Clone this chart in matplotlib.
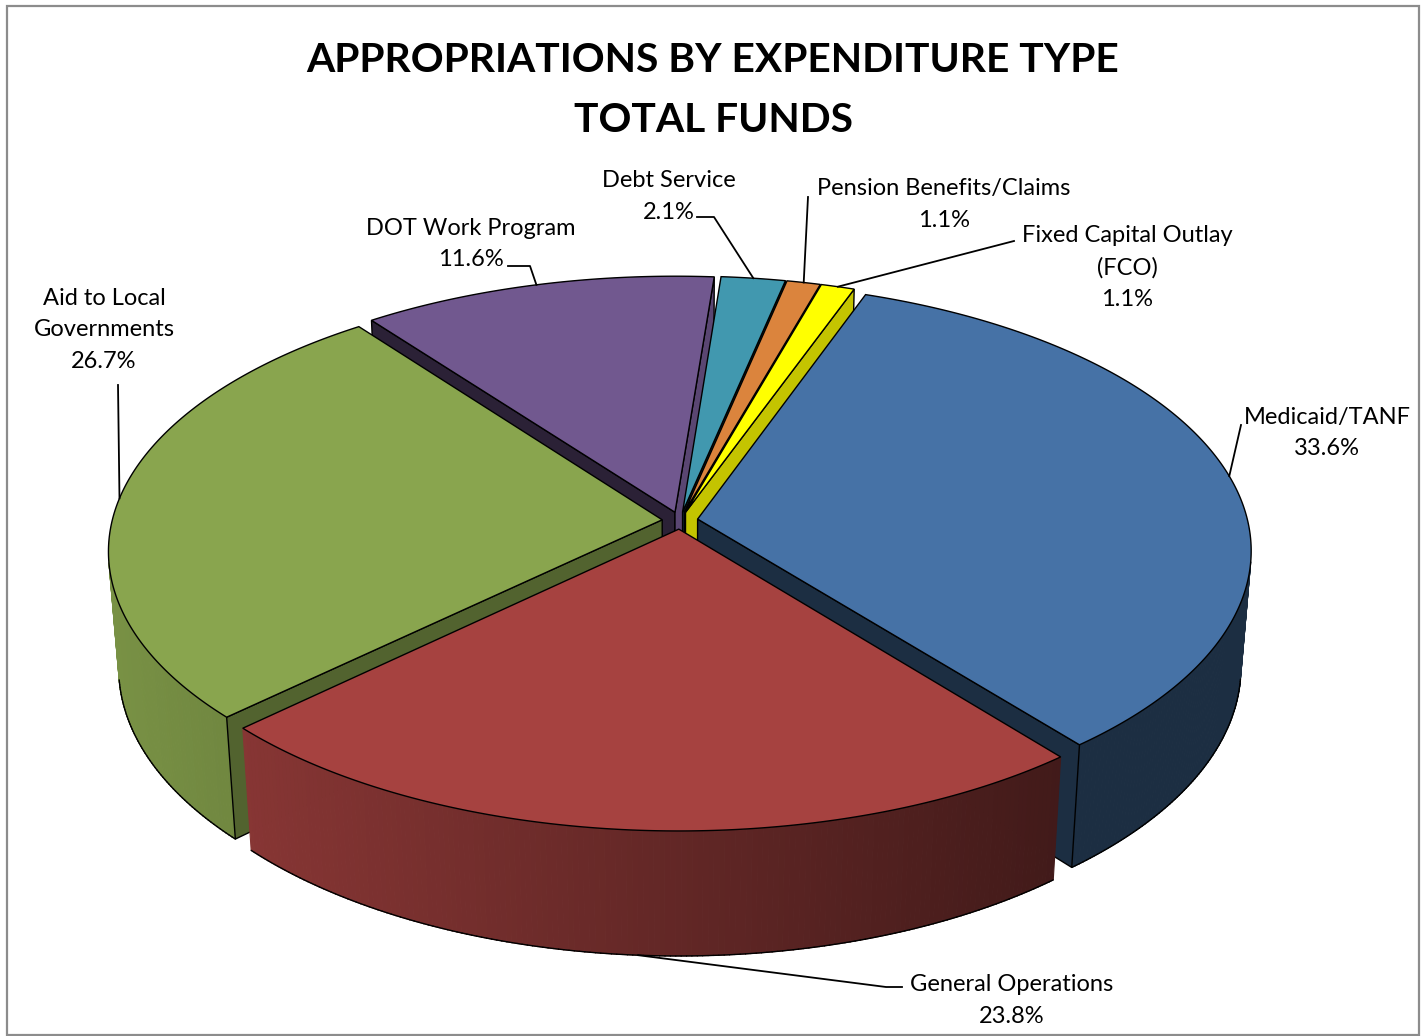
import numpy as np
import matplotlib
matplotlib.use("Agg")
import matplotlib.pyplot as plt
from matplotlib.patches import Polygon, Rectangle
from matplotlib.collections import PolyCollection
from matplotlib.colors import to_rgb

title_lines = ["APPROPRIATIONS BY EXPENDITURE TYPE", "TOTAL FUNDS"]
categories = ["Medicaid/TANF", "General Operations", "Aid to Local\nGovernments",
              "DOT Work Program", "Debt Service", "Pension Benefits/Claims",
              "Fixed Capital Outlay\n(FCO)"]
values = [33.6, 23.8, 26.7, 11.6, 2.1, 1.1, 1.1]
colors = ["#4672A6", "#A64240", "#89A54E", "#71588F", "#4198AF", "#DB843D", "#FFFF00"]

# ---- layout / style ----
W, H = 1426, 1036
FONT = "Lato"
START = 20.0
CX, CY = 680, 520.5
A, B, DEPTH = 550, 265, 118
K, M = 0.115, 0.018
EXPL = 0.0325
draw_order = [3, 4, 5, 6, 2, 0, 1]
start_shade = [0.4, 0.4, 0.6, 0.38, 0.45, 0.45, 0.77]
end_shade = [0.4, 0.4, 0.6, 0.8, 0.35, 0.35, 0.77]
# centre of label block, and elbow points of the leader (label-side end first)
label_xy = [(1327, 433), (1012, 1000.5), (104, 330), (471, 244), (669, 196.5), (944, 204.5), (1127, 267.5)]
leader_path = [[(1241, 425)], [(902, 987), (886, 987)], [(118, 385)],
               [(508, 266), (530, 266)], [(697, 217), (714, 217)], [(808, 197)], [(1014, 241)]]
leader_z = [0, 1, 0, 0, 0, 0, 0]


def project(x, y, z):
    p = 1.0 / (1 + K * y + M * z)
    return CX + A * x * p, CY + (-B * y + DEPTH * z) * p


def cross(p0, p1, p2):
    return (p1[0] - p0[0]) * (p2[1] - p1[1]) - (p1[1] - p0[1]) * (p2[0] - p1[0])


vals = np.array(values, float)
sweep = vals / vals.sum() * 360
starts = START + np.concatenate([[0], np.cumsum(sweep)[:-1]])
ends = starts + sweep
mids = (starts + ends) / 2

fig = plt.figure(figsize=(W / 100, H / 100), dpi=100)
ax = fig.add_axes([0, 0, 1, 1])
ax.set_xlim(0, W)
ax.set_ylim(H, 0)
ax.axis("off")
ax.add_patch(Rectangle((6.5, 5.5), 1412.5, 1029.5, fc="white", ec="#8c8c8c", lw=1.6, zorder=0))


def shade(base, s):
    return tuple(np.array(to_rgb(base)) * s)


z = 1
for i in draw_order:
    c = colors[i]
    ex = EXPL * np.sin(np.radians(mids[i]))
    ey = EXPL * np.cos(np.radians(mids[i]))
    th = np.radians(np.linspace(starts[i], ends[i], max(8, int(sweep[i] * 2))))
    xs = np.sin(th) + ex
    ys = np.cos(th) + ey

    # outer wall, strip by strip; only strips that face the viewer
    polys, fc, rim = [], [], []
    for j in range(len(th) - 1):
        a0 = project(xs[j], ys[j], 0)
        a1 = project(xs[j + 1], ys[j + 1], 0)
        b1 = project(xs[j + 1], ys[j + 1], 1)
        b0 = project(xs[j], ys[j], 1)
        if cross(a0, a1, b1) >= 0:
            continue
        polys.append([a0, a1, b1, b0])
        t = ((a0[0] + a1[0]) / 2 - 108) / 1144
        fc.append(shade(c, max(0.4, 0.88 - 0.58 * t)))
        rim.append((b0, b1))
    if polys:
        ax.add_collection(PolyCollection(polys, facecolors=fc, edgecolors=fc, linewidths=0.8, zorder=z))
        z += 1
        for b0, b1 in rim:
            ax.plot([b0[0], b1[0]], [b0[1], b1[1]], color="black", lw=1.0, zorder=z,
                    solid_capstyle="round")
        z += 1

    # cut faces, only when they face the viewer
    for xr, yr, s, sign in ((xs[0], ys[0], start_shade[i], -1), (xs[-1], ys[-1], end_shade[i], 1)):
        pts = [project(ex, ey, 0), project(xr, yr, 0), project(xr, yr, 1), project(ex, ey, 1)]
        if cross(pts[0], pts[1], pts[2]) * sign > 0:
            ax.add_patch(Polygon(pts, closed=True, fc=shade(c, s), ec="black", lw=1.0, zorder=z))
            z += 1

    # top face
    tx, ty = project(xs, ys, np.zeros_like(xs))
    ax_, ay_ = project(ex, ey, 0)
    pts = np.column_stack([np.r_[ax_, tx], np.r_[ay_, ty]])
    ax.add_patch(Polygon(pts, closed=True, fc=c, ec="black", lw=1.0, zorder=z))
    z += 1

# leaders and labels
for i, cat in enumerate(categories):
    ex = (1 + EXPL) * np.sin(np.radians(mids[i]))
    ey = (1 + EXPL) * np.cos(np.radians(mids[i]))
    end = project(ex, ey, leader_z[i])
    path = leader_path[i] + [end]
    ax.plot([p[0] for p in path], [p[1] for p in path], color="black", lw=1.3, zorder=z + 1)
    ax.text(label_xy[i][0], label_xy[i][1], f"{cat}\n{values[i]:.1f}%", ha="center", va="center",
            fontsize=17, family=FONT, color="black", linespacing=1.6, zorder=z + 2)

ax.text(713, 60, title_lines[0], ha="center", va="center", fontsize=29.3, fontweight="bold", family=FONT)
ax.text(713, 120, title_lines[1], ha="center", va="center", fontsize=29.3, fontweight="bold", family=FONT)

fig.savefig("out.png", dpi=100)
